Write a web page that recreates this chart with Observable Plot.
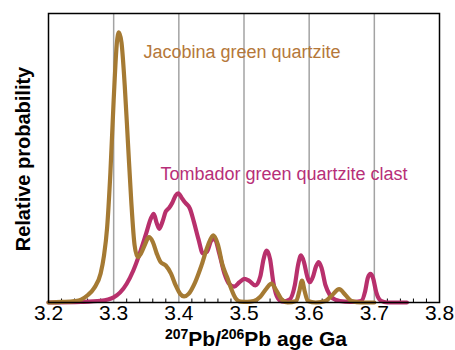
<!DOCTYPE html>
<html>
<head>
<meta charset="utf-8">
<script src="https://cdn.jsdelivr.net/npm/d3@7"></script>
<script src="https://cdn.jsdelivr.net/npm/@observablehq/plot@0.6"></script>
<style>
  html, body { margin: 0; padding: 0; background: #fff; }
  svg { display: block; }
</style>
</head>
<body>
<div id="chart"></div>
<script>
// Jacobina green quartzite probability curve (age Ga, relative probability)
const jacobinaAge = [3.20,3.22,3.24,3.25,3.26,3.27,3.28,3.285,3.29,3.295,3.300,3.305,3.308,3.312,3.317,3.322,3.327,3.332,3.337,3.342,3.348,3.354,3.360,3.366,3.372,3.380,3.388,3.395,3.402,3.408,3.415,3.425,3.435,3.445,3.453,3.460,3.467,3.474,3.480,3.487,3.495,3.505,3.515,3.525,3.535,3.542,3.550,3.558,3.567,3.580,3.585,3.589,3.593,3.598,3.610,3.625,3.635,3.646,3.656,3.665,3.680,3.700];
const jacobinaProb = [0.0,0.002,0.005,0.01,0.025,0.05,0.10,0.16,0.26,0.45,0.70,0.90,0.935,0.90,0.75,0.55,0.35,0.20,0.157,0.17,0.20,0.226,0.21,0.17,0.14,0.128,0.10,0.06,0.03,0.021,0.03,0.07,0.13,0.20,0.232,0.20,0.13,0.088,0.05,0.015,0.003,0.002,0.005,0.02,0.05,0.065,0.04,0.01,0.0,0.005,0.04,0.076,0.04,0.005,0.0,0.005,0.025,0.046,0.025,0.005,0.0,0.0];

// Tombador green quartzite clast probability curve
const tombadorAge = [3.20,3.25,3.28,3.30,3.31,3.32,3.33,3.34,3.35,3.357,3.3615,3.366,3.370,3.375,3.380,3.385,3.390,3.395,3.399,3.405,3.410,3.417,3.423,3.430,3.437,3.443,3.450,3.455,3.462,3.470,3.477,3.485,3.493,3.5006,3.508,3.5175,3.525,3.530,3.535,3.540,3.545,3.552,3.560,3.570,3.578,3.583,3.5875,3.592,3.597,3.601,3.606,3.6105,3.6146,3.619,3.625,3.632,3.640,3.655,3.670,3.680,3.686,3.690,3.694,3.698,3.703,3.710,3.720,3.750];
const tombadorProb = [0.0,0.002,0.006,0.018,0.035,0.065,0.11,0.17,0.24,0.29,0.307,0.275,0.255,0.28,0.315,0.327,0.345,0.37,0.378,0.36,0.345,0.325,0.28,0.22,0.17,0.175,0.215,0.22,0.17,0.10,0.065,0.055,0.07,0.082,0.075,0.059,0.09,0.15,0.18,0.15,0.07,0.015,0.003,0.01,0.06,0.13,0.163,0.14,0.09,0.07,0.09,0.125,0.14,0.12,0.06,0.025,0.01,0.003,0.002,0.005,0.04,0.085,0.099,0.085,0.035,0.006,0.0,0.0];

const majorTicks = [3.2,3.3,3.4,3.5,3.6,3.7,3.8];
const gridTicks = [3.3,3.4,3.5,3.6,3.7];
const minorTicks = [3.22,3.24,3.26,3.28,3.32,3.34,3.36,3.38,3.42,3.44,3.46,3.48,3.52,3.54,3.56,3.58,3.62,3.64,3.66,3.68,3.72,3.74,3.76,3.78];

const labelNames = ["Jacobina green quartzite", "Tombador green quartzite clast"];
const labelAge = [3.3457, 3.3718];
const labelProb = [0.866, 0.443];

const brown = "#a57a33";
const magenta = "#b8306c";
const labelColors = ["#b5783a", "#b72f78"];

const jacobina = jacobinaAge.map((a, i) => ({age: a, p: jacobinaProb[i]}));
const tombador = tombadorAge.map((a, i) => ({age: a, p: tombadorProb[i]}));
const labels = labelNames.map((t, i) => ({t, age: labelAge[i], p: labelProb[i], c: labelColors[i]}));

const font = "'Liberation Sans', Arial, Helvetica, sans-serif";

const svg = Plot.plot({
  width: 455,
  height: 350,
  marginLeft: 48,
  marginRight: 16,
  marginTop: 13,
  marginBottom: 48,
  style: {fontFamily: font, fontSize: "21px", color: "#000", background: "#fff", overflow: "visible"},
  x: {domain: [3.2, 3.8], ticks: majorTicks, tickFormat: d3.format(".1f"), tickSize: 0, tickPadding: 3, label: null},
  y: {domain: [0, 1], axis: null},
  marks: [
    Plot.ruleX(gridTicks, {x: d => d, stroke: "#a3a3a3", strokeWidth: 1.5}),
    Plot.ruleX(minorTicks, {x: d => d, y1: 0, y2: 0.012, stroke: "#000", strokeWidth: 1}),
    Plot.line(tombador, {x: "age", y: "p", stroke: magenta, strokeWidth: 4.2, curve: "monotone-x"}),
    Plot.line(jacobina, {x: "age", y: "p", stroke: brown, strokeWidth: 4.2, curve: "monotone-x"}),
    Plot.frame({stroke: "#000", strokeWidth: 1.5}),
    Plot.text(labels, {x: "age", y: "p", text: "t", fill: "c", textAnchor: "start", lineAnchor: "middle", fontSize: 18, fontFamily: font})
  ]
});

const root = d3.select(svg);
// x axis title with superscripts
const xt = root.append("text")
  .attr("x", 256).attr("y", 346)
  .attr("text-anchor", "middle")
  .attr("font-family", font)
  .attr("font-weight", "bold")
  .attr("font-size", 21)
  .attr("fill", "#000");
xt.append("tspan").attr("font-size", 14).attr("dy", -7).text("207");
xt.append("tspan").attr("dy", 7).text("Pb/");
xt.append("tspan").attr("font-size", 14).attr("dy", -7).text("206");
xt.append("tspan").attr("dy", 7).text("Pb age Ga");

// y axis title
root.append("text")
  .attr("transform", "translate(23,159) rotate(-90)")
  .attr("text-anchor", "middle")
  .attr("dominant-baseline", "central")
  .attr("font-family", font)
  .attr("font-weight", "bold")
  .attr("font-size", 20)
  .attr("fill", "#000")
  .text("Relative probability");

document.getElementById("chart").appendChild(svg);
</script>
</body>
</html>
